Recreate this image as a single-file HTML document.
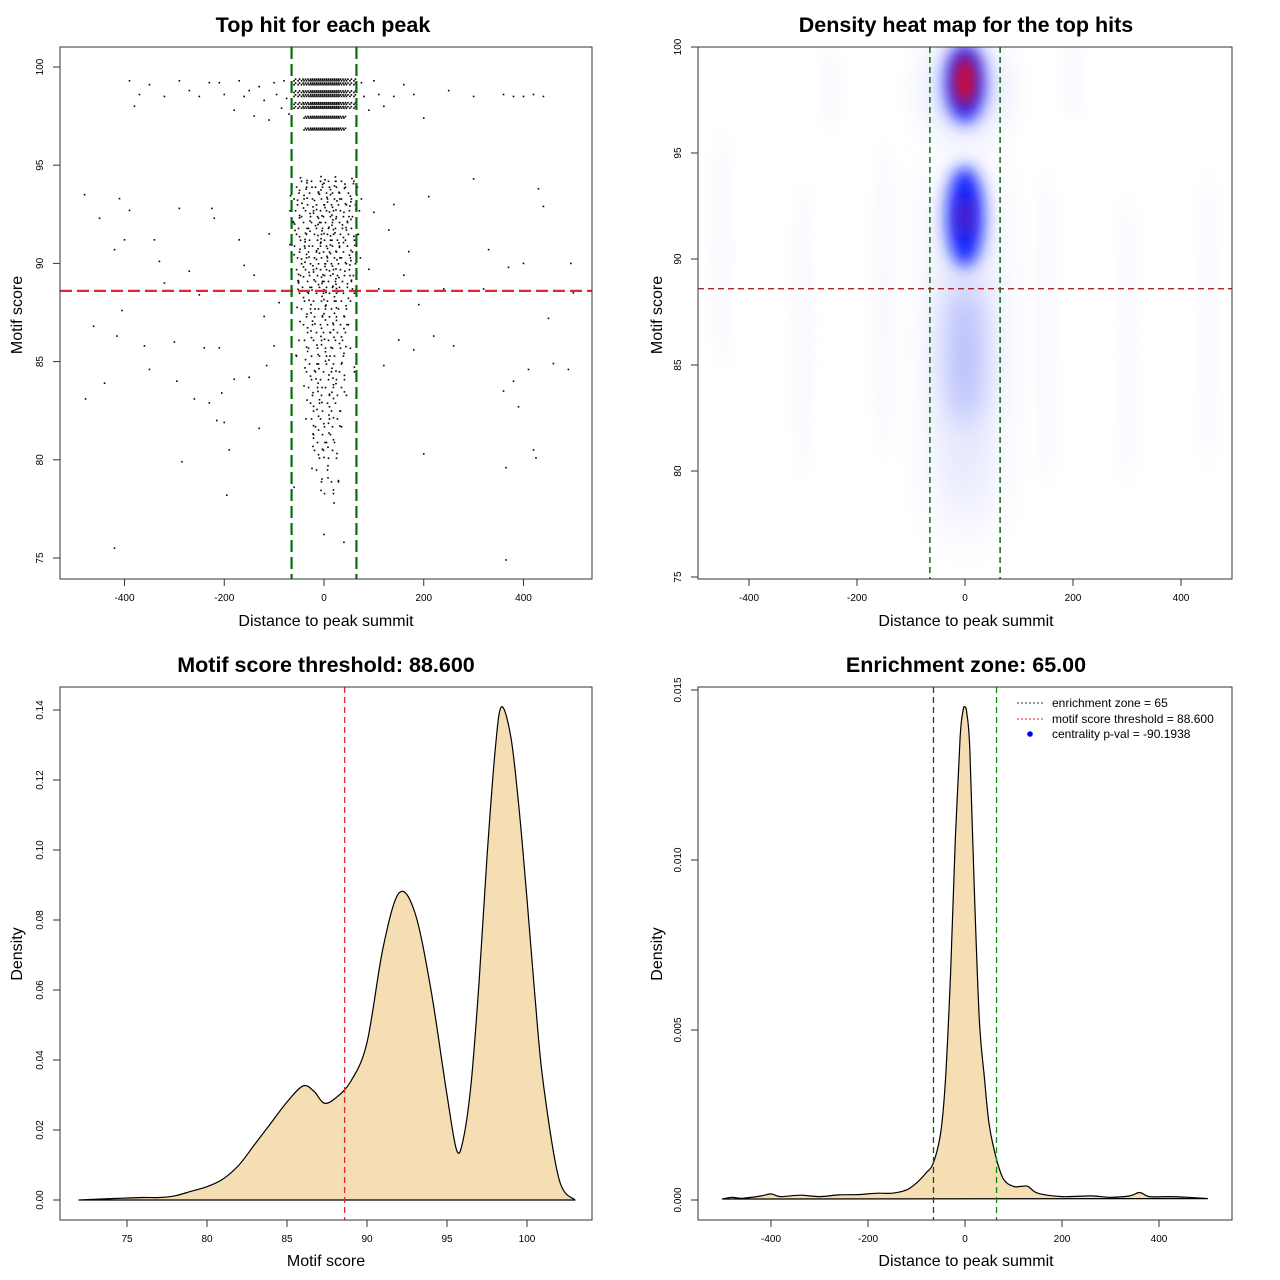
<!DOCTYPE html>
<html><head><meta charset="utf-8"><style>
body{margin:0;background:#fff}
svg{display:block;font-family:"Liberation Sans",sans-serif}
</style></head><body>
<svg id="s" width="1280" height="1280" viewBox="0 0 1280 1280">
<defs>
<filter id="blur8" x="-100%" y="-100%" width="300%" height="300%"><feGaussianBlur stdDeviation="8"/></filter>
<filter id="blur14" x="-100%" y="-100%" width="300%" height="300%"><feGaussianBlur stdDeviation="14"/></filter>
<filter id="blur25" x="-100%" y="-100%" width="300%" height="300%"><feGaussianBlur stdDeviation="25"/></filter>
<clipPath id="c2"><rect x="698" y="47" width="534" height="532"/></clipPath>
</defs>
</svg>
<script>
// ---------- data ----------
const scatterOuterDist=[-390,-370,-350,-320,-290,-270,-250,-230,-210,-200,-180,-170,-160,-150,-140,-130,-120,-110,-100,-95,-85,-80,-75,-70,75,80,90,100,110,120,140,160,180,200,250,300,360,380,400,420,-380,440,
-480,-478,-462,-450,-440,-420,-415,-410,-405,-400,-390,-385,-360,-350,-340,-330,-320,-300,-295,-290,-285,-270,-260,-250,-240,-230,-225,-220,-215,-210,-205,-200,-195,-190,-180,-170,-160,-150,-140,-130,-120,-115,-110,-100,-90,
90,100,110,120,130,140,150,160,170,180,190,200,210,220,240,260,300,320,330,360,365,370,380,390,400,410,420,425,430,440,450,460,490,495,500,-420,365,0,40,-60,20];
const scatterOuterScore=[99.3,98.6,99.1,98.5,99.3,98.8,98.5,99.2,99.2,98.6,97.8,99.3,98.5,98.8,97.5,99.0,98.3,97.3,99.2,98.6,97.9,99.3,98.4,97.6,99.2,98.5,97.8,99.3,98.6,98.0,98.5,99.1,98.6,97.4,98.8,98.5,98.6,98.5,98.5,98.6,98.0,98.5,
93.5,83.1,86.8,92.3,83.9,90.7,86.3,93.3,87.6,91.2,92.7,88.6,85.8,84.6,91.2,90.1,89.0,86.0,84.0,92.8,79.9,89.6,83.1,88.4,85.7,82.9,92.8,92.3,82.0,85.7,83.4,81.9,78.2,80.5,84.1,91.2,89.9,84.2,89.4,81.6,87.3,84.8,91.5,85.8,88.0,
89.7,92.6,88.7,84.8,91.7,93.0,86.1,89.4,90.6,85.6,87.9,80.3,93.4,86.3,88.7,85.8,94.3,88.7,90.7,83.5,79.6,89.8,84.0,82.7,90.0,84.6,80.5,80.1,93.8,92.9,87.2,84.9,84.6,90.0,88.5,75.5,74.9,76.2,75.8,78.6,77.8];
const bandScores=[99.3,99.1,98.7,98.5,98.1,97.9,97.4,96.8];
const bandDists=[-60,-52,-45,-40,-35,-30,-26,-22,-18,-14,-10,-6,-2,2,6,10,14,18,22,26,30,35,40,45,52,60];
const coreScores=[94.3,94.0,93.7,93.4,93.1,92.8,92.5,92.2,91.9,91.6,91.3,91.0,90.7,90.4,90.1,89.8,89.5,89.2,88.9,88.6,88.2,87.8,87.4,87.0,86.6,86.2,85.8,85.4,85.0,84.6,84.2,83.8,83.4,83.0,82.6,82.2,81.8,81.4,81.0,80.6,80.2,79.6,79.0,78.4];
const coreDists=[
[-50,-30,-12,4,18,30,55],[-60,-40,-22,-8,6,20,38,62],[-55,-34,-16,0,12,26,44],[-65,-45,-28,-10,2,16,30,50,70],
[-58,-38,-20,-4,10,24,40,58],[-62,-42,-26,-12,0,14,28,46,66],[-50,-32,-18,-6,8,20,34,52],[-66,-46,-30,-14,-2,12,26,42,60],
[-56,-36,-20,-8,4,18,32,50],[-60,-40,-24,-10,2,14,28,44,64],[-52,-34,-18,-4,8,22,38,56],[-64,-44,-28,-12,0,12,26,42,60],
[-54,-36,-20,-6,6,20,34,52],[-58,-40,-24,-10,2,16,30,48,68],[-50,-32,-16,-2,10,24,40,58],[-60,-42,-26,-12,0,14,28,46],
[-52,-34,-18,-4,8,22,36,54],[-56,-38,-22,-8,4,18,32,50],[-48,-30,-14,0,12,26,42],[-54,-36,-20,-6,6,20,34,56],
[-44,-26,-10,2,16,30,48],[-50,-32,-16,-2,10,24,40],[-40,-24,-8,6,20,36],[-46,-28,-12,2,14,28,44],
[-38,-20,-6,8,22,38],[-44,-26,-10,4,18,32],[-36,-18,-2,12,28,48],[-60,-30,-14,0,16,34],
[-34,-16,0,14,30],[-40,-22,-6,10,26,56],[-30,-12,4,20,36],[-36,-18,-2,14,30],
[-28,-10,6,22,40],[-32,-14,2,18],[-26,-8,10,28],[-30,-12,6,22],
[-22,-4,12,30],[-26,-8,8],[-18,0,16],[-24,-6,12],[-14,4,20],[-20,2],[-10,10,24],[-4,14]];
const coreJitter=[3,-4,6,-2,5,-6,1,4,-3,2];
// panel 3 density
const msX=[72,74,76,77,78,79,80,81,82,83,84,85,86,86.7,87.3,88,89,90,91,92,93,94,95,95.6,96,96.5,97,97.5,98,98.4,99,99.5,100,100.5,101,102,103];
const msY=[0,0.0004,0.0007,0.0007,0.0012,0.0025,0.0038,0.006,0.010,0.016,0.022,0.028,0.0326,0.031,0.0277,0.029,0.034,0.045,0.072,0.0877,0.082,0.060,0.030,0.0143,0.017,0.033,0.062,0.098,0.128,0.1409,0.132,0.112,0.086,0.058,0.034,0.006,0];
// panel 4 density
const dzX=[-500,-480,-460,-420,-400,-380,-340,-300,-260,-220,-180,-150,-120,-100,-80,-65,-50,-40,-30,-20,-10,-4,0,4,10,20,30,40,50,65,80,100,115,130,150,200,260,300,340,360,380,420,460,500];
const dzY=[0.00003,0.00008,0.00005,0.00012,0.00018,0.0001,0.00014,0.0001,0.00015,0.00016,0.0002,0.0002,0.0003,0.0005,0.0008,0.0011,0.002,0.0036,0.0066,0.0106,0.0136,0.0144,0.0145,0.0143,0.0132,0.0088,0.0052,0.0036,0.0022,0.0012,0.0006,0.0004,0.0004,0.0004,0.0002,0.0001,0.00012,0.00008,0.00012,0.00022,0.0001,0.0001,0.00008,0.00004];
const p1XTicks=[-400,-200,0,200,400], p1YTicks=[75,80,85,90,95,100];
const p2YTicks=[75,80,85,90,95,100];
const p3XTicks=[75,80,85,90,95,100], p3YTicks=[0,0.02,0.04,0.06,0.08,0.10,0.12,0.14];
const p4YTicks=[0,0.005,0.010,0.015];
const thresholdScore=88.6, zone=65;

// ---------- helpers ----------
const S=document.getElementById('s'), NS='http://www.w3.org/2000/svg';
function mk(tag,attrs,parent){const e=document.createElementNS(NS,tag);for(const k in attrs)e.setAttribute(k,attrs[k]);(parent||S).appendChild(e);return e;}
function lin(d0,d1,p0,p1){return v=>p0+(v-d0)*(p1-p0)/(d1-d0);}
function smooth(pts){let d=`M${pts[0][0].toFixed(1)},${pts[0][1].toFixed(1)}`;for(let i=0;i<pts.length-1;i++){const p0=pts[Math.max(0,i-1)],p1=pts[i],p2=pts[i+1],p3=pts[Math.min(pts.length-1,i+2)];const c1=[p1[0]+(p2[0]-p0[0])/6,p1[1]+(p2[1]-p0[1])/6],c2=[p2[0]-(p3[0]-p1[0])/6,p2[1]-(p3[1]-p1[1])/6];d+=`C${c1[0].toFixed(1)},${c1[1].toFixed(1)} ${c2[0].toFixed(1)},${c2[1].toFixed(1)} ${p2[0].toFixed(1)},${p2[1].toFixed(1)}`;}return d;}
function box(x,y,w,h,name){const r=mk('rect',{x,y,width:w,height:h,fill:'none',stroke:'#333','stroke-width':1});}
function txt(x,y,s,size,opts){const t=mk('text',Object.assign({x,y,'font-size':size,'text-anchor':'middle',fill:'#000'},opts||{}));t.textContent=s;return t;}
function xticks(ticks,sx,y0,fmt,name){ticks.forEach(v=>{const x=sx(v);mk('line',{x1:x,x2:x,y1:y0,y2:y0+7,stroke:'#333'});const t=txt(x,y0+22,fmt(v),10);});}
function yticks(ticks,sy,x0,fmt,name){ticks.forEach(v=>{const y=sy(v);mk('line',{x1:x0,x2:x0-7,y1:y,y2:y,stroke:'#333'});const t=txt(x0-17,y,fmt(v),10,{transform:`rotate(-90 ${x0-17} ${y})`});});}
function title(x,y,s,name){const t=txt(x,y,s,21.5,{'font-weight':'bold'});}
function axlab(x,y,s,name,rot){const t=txt(x,y,s,16,rot?{transform:`rotate(-90 ${x} ${y})`}:{});}

// ---------- panel 1 ----------
{const sx=lin(0,400,324,523.5), sy=lin(100,75,67,558);
const g=mk('g',{});
function pt(d,s){mk('rect',{x:sx(d)-0.8,y:sy(s)-0.8,width:1.6,height:1.6,fill:'#000'},g);}
scatterOuterDist.forEach((d,i)=>pt(d,scatterOuterScore[i]));
bandScores.forEach((s,ri)=>bandDists.forEach((d,j)=>{if(ri>=6&&Math.abs(d)>40)return;pt(d,s);pt(d+3,s+0.08);}));
coreScores.forEach((s,i)=>coreDists[i].forEach((d,j)=>{pt(d+coreJitter[(i+j)%10],s+coreJitter[(i*3+j)%10]*0.02);pt(d+5,s-0.12);}));
const h=mk('line',{x1:60,x2:592,y1:sy(thresholdScore),y2:sy(thresholdScore),stroke:'#e3262a','stroke-width':2.2,'stroke-dasharray':'12 5'});
[-zone,zone].forEach(z=>{const l=mk('line',{x1:sx(z),x2:sx(z),y1:47,y2:579,stroke:'#0a6b0a','stroke-width':2.2,'stroke-dasharray':'12 5'});});
box(60,47,532,532,'scatter-plot-area');
xticks(p1XTicks,sx,579,v=>v,'x-tick-label');yticks(p1YTicks,sy,60,v=>v,'y-tick-label');
title(323,32,'Top hit for each peak','scatter-title');axlab(326,626,'Distance to peak summit','x-axis-title');axlab(22,315,'Motif score','y-axis-title',true);}

// ---------- panel 2 ----------
{const sx=lin(0,400,965,1181), sy=lin(100,75,47,577);
const g=mk('g',{'clip-path':'url(#c2)'});
const cx=sx(0);
[[sx(-450),250,6,120],[sx(-300),330,6,150],[sx(-150),300,7,160],[sx(150),330,7,160],[sx(300),340,6,150],[sx(450),320,6,150],[sx(-250),90,6,40],[sx(200),80,6,40]].forEach(a=>mk('ellipse',{cx:a[0],cy:a[1],rx:a[2],ry:a[3],fill:'#f5f6ff',filter:'url(#blur8)'},g));
mk('ellipse',{cx,cy:sy(86),rx:22,ry:190,fill:'#d4d8fd',filter:'url(#blur25)'},g);
mk('ellipse',{cx,cy:sy(85.5),rx:16,ry:70,fill:'#b4bbfb',filter:'url(#blur14)'},g);
mk('ellipse',{cx,cy:sy(98),rx:45,ry:55,fill:'#e8eaff',filter:'url(#blur14)'},g);
mk('ellipse',{cx,cy:sy(98.3),rx:20,ry:40,fill:'#1f2cff',filter:'url(#blur8)'},g);
mk('ellipse',{cx,cy:sy(98.4),rx:9,ry:26,fill:'#ff0000',filter:'url(#blur8)'},g);
mk('ellipse',{cx,cy:sy(92),rx:18,ry:50,fill:'#1020ff',filter:'url(#blur8)'},g);
mk('ellipse',{cx,cy:sy(92),rx:5,ry:20,fill:'#8a1a9a',filter:'url(#blur8)'},g);
const h=mk('line',{x1:698,x2:1232,y1:sy(thresholdScore),y2:sy(thresholdScore),stroke:'#a3282a','stroke-width':1.3,'stroke-dasharray':'6 4'});
[-zone,zone].forEach(z=>{const l=mk('line',{x1:sx(z),x2:sx(z),y1:47,y2:579,stroke:'#0a6b0a','stroke-width':1.5,'stroke-dasharray':'6 4'});});
box(698,47,534,532,'heatmap-plot-area');
xticks(p1XTicks,sx,579,v=>v,'x-tick-label');yticks(p2YTicks,sy,698,v=>v,'y-tick-label');
title(966,32,'Density heat map for the top hits','heatmap-title');axlab(966,626,'Distance to peak summit','x-axis-title');axlab(662,315,'Motif score','y-axis-title',true);}

// ---------- panel 3 ----------
{const sx=lin(75,100,127,527), sy=lin(0,0.14,1200,710);
const pts=msX.map((x,i)=>[sx(x),sy(msY[i])]);
const p=mk('path',{d:smooth(pts)+'Z',fill:'#f5deb3',stroke:'#000','stroke-width':1.2,'stroke-linejoin':'round'});
const l=mk('line',{x1:sx(thresholdScore),x2:sx(thresholdScore),y1:687,y2:1220,stroke:'#e3262a','stroke-width':1.3,'stroke-dasharray':'6 4'});
box(60,687,532,533,'score-density-plot-area');
xticks(p3XTicks,sx,1220,v=>v,'x-tick-label');yticks(p3YTicks,sy,60,v=>v.toFixed(2),'y-tick-label');
title(326,672,'Motif score threshold: 88.600','score-density-title');axlab(326,1266,'Motif score','x-axis-title');axlab(22,954,'Density','y-axis-title',true);}

// ---------- panel 4 ----------
{const sx=lin(0,400,965,1159), sy=lin(0,0.015,1200,690);
const pts=dzX.map((x,i)=>[sx(x),sy(dzY[i])]);
const p=mk('path',{d:smooth(pts)+'Z',fill:'#f5deb3',stroke:'#000','stroke-width':1.2,'stroke-linejoin':'round'});
const l1=mk('line',{x1:sx(-zone),x2:sx(-zone),y1:687,y2:1220,stroke:'#1f4a1f','stroke-width':1.3,'stroke-dasharray':'6 4'});
const l2=mk('line',{x1:sx(zone),x2:sx(zone),y1:687,y2:1220,stroke:'#0a8a0a','stroke-width':1.3,'stroke-dasharray':'6 4'});
box(698,687,534,533,'distance-density-plot-area');
xticks(p1XTicks,sx,1220,v=>v,'x-tick-label');yticks(p4YTicks,sy,698,v=>v.toFixed(3),'y-tick-label');
title(966,672,'Enrichment zone: 65.00','distance-density-title');axlab(966,1266,'Distance to peak summit','x-axis-title');axlab(662,954,'Density','y-axis-title',true);
const lg=mk('g',{});
mk('line',{x1:1017,x2:1043,y1:703,y2:703,stroke:'#333','stroke-dasharray':'2 2'},lg);
mk('line',{x1:1017,x2:1043,y1:719,y2:719,stroke:'#e3262a','stroke-dasharray':'2 2'},lg);
mk('circle',{cx:1030,cy:734,r:2.8,fill:'#0000ff'},lg);
[['enrichment zone = 65',707],['motif score threshold = 88.600',723],['centrality p-val = -90.1938',738]].forEach(a=>{const t=txt(1052,a[1],a[0],12,{'text-anchor':'start'});lg.appendChild(t);});}
</script>
</body></html>
